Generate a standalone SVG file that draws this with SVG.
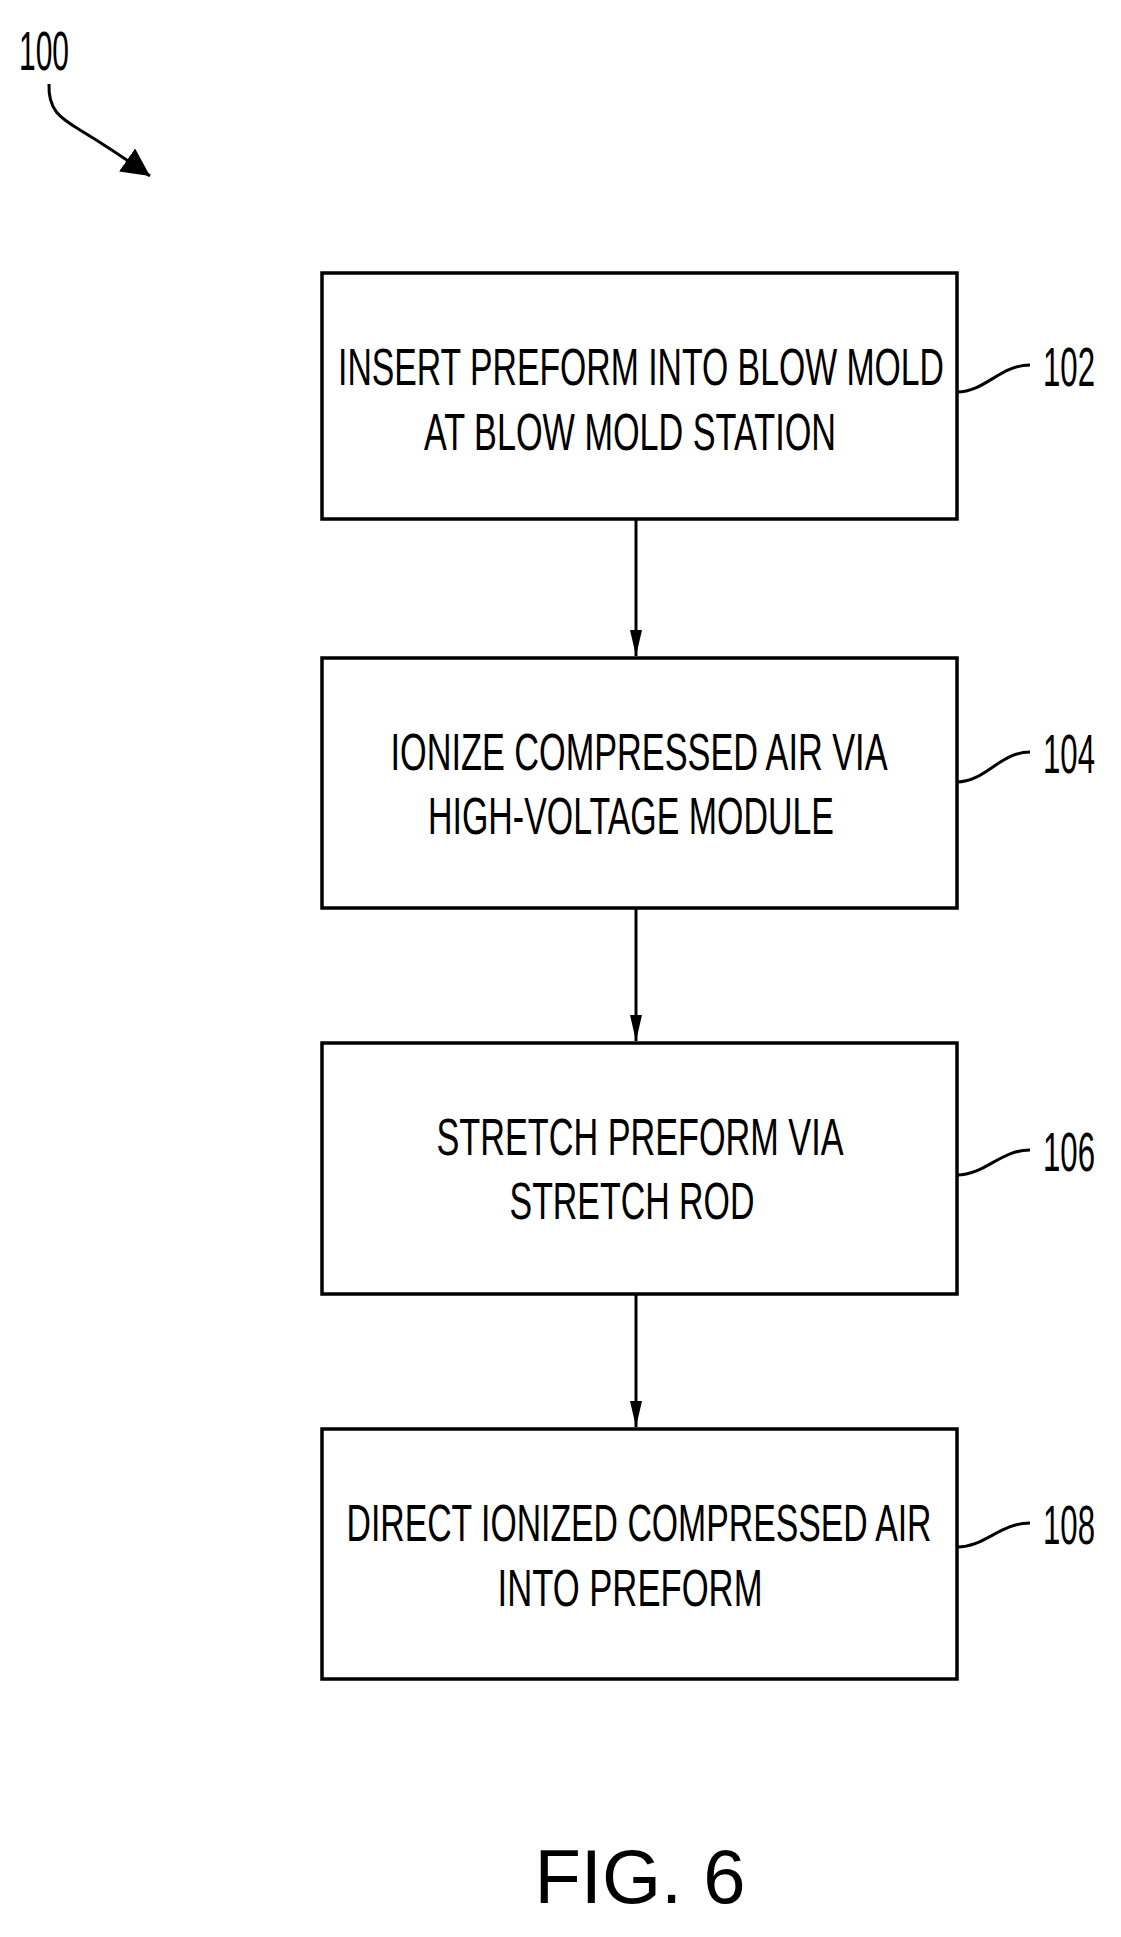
<svg xmlns="http://www.w3.org/2000/svg" width="1121" height="1937" viewBox="0 0 1121 1937">
<style>
.b{fill:#fff;stroke:#000;stroke-width:3.5}
.t{font-family:"Liberation Sans",Arial,sans-serif;font-size:52px;fill:#000;text-anchor:middle}
.n{font-family:"Liberation Sans",Arial,sans-serif;font-size:56px;fill:#000;text-anchor:middle}
.l{fill:none;stroke:#000;stroke-width:3}
</style>
<defs><marker id="a" viewBox="0 0 26 12" refX="26" refY="6" markerWidth="26" markerHeight="12" markerUnits="userSpaceOnUse" orient="auto"><path d="M0,0 L26,6 L0,12 Z" fill="#000"/></marker>
<marker id="d" viewBox="0 0 10 10" refX="10" refY="5" markerWidth="28" markerHeight="28" markerUnits="userSpaceOnUse" orient="auto"><path d="M0,0 L10,5 L0,10 Z" fill="#000"/></marker></defs>
<rect width="1121" height="1937" fill="#fff"/>
<g id="ref100"><text class="n" x="44" y="70" textLength="50" lengthAdjust="spacingAndGlyphs">100</text>
<path class="l" d="M49,84 C48,110 60,118 80,130 C100,142 120,155 150,176" marker-end="url(#d)"/></g>
<g id="n102"><rect class="b" x="322" y="273" width="635" height="246"/>
<text class="t" x="641" y="385" textLength="606" lengthAdjust="spacingAndGlyphs">INSERT PREFORM INTO BLOW MOLD</text>
<text class="t" x="630" y="450" textLength="412" lengthAdjust="spacingAndGlyphs">AT BLOW MOLD STATION</text>
<path class="l" d="M957,392 C985,392 1000,365 1030,365"/><text class="n" x="1069" y="386" textLength="52" lengthAdjust="spacingAndGlyphs">102</text></g>
<g id="n104"><rect class="b" x="322" y="658" width="635" height="250"/>
<text class="t" x="639" y="770" textLength="497" lengthAdjust="spacingAndGlyphs">IONIZE COMPRESSED AIR VIA</text>
<text class="t" x="631" y="834" textLength="406" lengthAdjust="spacingAndGlyphs">HIGH-VOLTAGE MODULE</text>
<path class="l" d="M957,782 C985,782 1000,752 1030,752"/><text class="n" x="1069" y="773" textLength="52" lengthAdjust="spacingAndGlyphs">104</text></g>
<g id="n106"><rect class="b" x="322" y="1043" width="635" height="251"/>
<text class="t" x="640" y="1155" textLength="407" lengthAdjust="spacingAndGlyphs">STRETCH PREFORM VIA</text>
<text class="t" x="632" y="1219" textLength="245" lengthAdjust="spacingAndGlyphs">STRETCH ROD</text>
<path class="l" d="M957,1175 C985,1175 1000,1150 1030,1150"/><text class="n" x="1069" y="1171" textLength="52" lengthAdjust="spacingAndGlyphs">106</text></g>
<g id="n108"><rect class="b" x="322" y="1429" width="635" height="250"/>
<text class="t" x="639" y="1541" textLength="585" lengthAdjust="spacingAndGlyphs">DIRECT IONIZED COMPRESSED AIR</text>
<text class="t" x="630" y="1606" textLength="265" lengthAdjust="spacingAndGlyphs">INTO PREFORM</text>
<path class="l" d="M957,1547 C985,1547 1000,1523 1030,1523"/><text class="n" x="1069" y="1544" textLength="52" lengthAdjust="spacingAndGlyphs">108</text></g>
<g id="connectors">
<line class="l" x1="636" y1="519" x2="636" y2="656" marker-end="url(#a)"/>
<line class="l" x1="636" y1="908" x2="636" y2="1041" marker-end="url(#a)"/>
<line class="l" x1="636" y1="1294" x2="636" y2="1427" marker-end="url(#a)"/>
</g>
<text x="640" y="1903" font-family="Liberation Sans,Arial,sans-serif" font-size="76" text-anchor="middle">FIG. 6</text>
</svg>
